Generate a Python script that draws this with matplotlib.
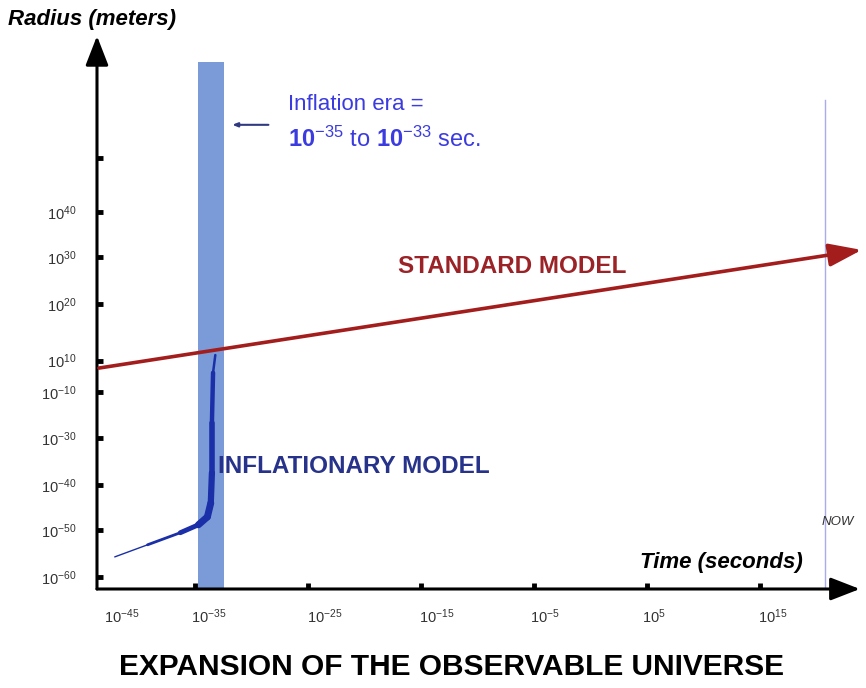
import matplotlib
matplotlib.use("Agg")
import matplotlib.pyplot as plt
from matplotlib.collections import LineCollection

plt.rcParams['font.family'] = ['Liberation Sans', 'DejaVu Sans']
plt.rcParams['mathtext.fontset'] = 'custom'
plt.rcParams['mathtext.rm'] = 'Liberation Sans'
plt.rcParams['mathtext.bf'] = 'Liberation Sans:bold'
plt.rcParams['mathtext.it'] = 'Liberation Sans:italic'
plt.rcParams['mathtext.default'] = 'regular'

#--- data (x = log10 of time in s, y = radius on the drawing's scale) ---
x_marks = [-35, -25, -15, -5, 5, 15]
x_label_pos = [-41.5, -33.8, -23.5, -13.6, -4.0, 5.6, 16.1]
x_labels = ['$10^{-45}$', '$10^{-35}$', '$10^{-25}$', '$10^{-15}$',
            '$10^{-5}$', '$10^{5}$', '$10^{15}$']
y_marks = [-60, -49.9, -40.2, -30.1, -20.2, -13.5, -1.3, 8.8, 18.5, 30.1]
y_labels = ['$10^{-60}$', '$10^{-50}$', '$10^{-40}$', '$10^{-30}$',
            '$10^{-10}$', '$10^{10}$', '$10^{20}$', '$10^{30}$',
            '$10^{40}$', '']

standard_x = [-43.5, 24.0]
standard_y = [-15.1, 10.3]

infl_x = [-42.1, -39.2, -36.3, -34.7, -33.9, -33.6, -33.5, -33.5, -33.4, -33.2]
infl_y = [-55.7, -53.1, -50.5, -48.8, -47.1, -44.1, -37.6, -26.9, -16.1, -12.3]

era_start, era_end, era_top = -34.7, -32.4, 50.8
now_x, now_top = 20.75, 42.6

x_lim = (-43.67, 24.38)
y_lim = (-62.6, 56.3)

#--- figure ---
fig = plt.figure(figsize=(8.66, 6.88), dpi=100)
ax = fig.add_axes([0.112, 0.1439, 0.888, 0.8038])
ax.set_xlim(*x_lim)
ax.set_ylim(*y_lim)
for s in ax.spines.values():
    s.set_visible(False)

# axis lines with arrow heads
ax.annotate('', xy=(0.992, 0), xytext=(0, 0), xycoords='axes fraction',
            arrowprops=dict(arrowstyle='-|>,head_length=0.9,head_width=0.35',
                            lw=2.2, color='black', mutation_scale=20,
                            shrinkA=0, shrinkB=0), annotation_clip=False)
ax.annotate('', xy=(0, 1), xytext=(0, 0), xycoords='axes fraction',
            arrowprops=dict(arrowstyle='-|>,head_length=0.9,head_width=0.35',
                            lw=2.2, color='black', mutation_scale=20,
                            shrinkA=0, shrinkB=0), annotation_clip=False)

# ticks
ax.set_xticks(x_label_pos)
ax.set_xticklabels(x_labels)
ax.set_xticks(x_marks, minor=True)
ax.tick_params(axis='x', which='major', length=0, pad=13, labelsize=10.5,
               labelcolor='#333333')
ax.tick_params(axis='x', which='minor', direction='in', length=4.5, width=3.5,
               color='black')
ax.set_yticks(y_marks)
ax.set_yticklabels(y_labels)
ax.tick_params(axis='y', direction='in', length=4.5, width=3.5, color='black',
               pad=15, labelsize=10.5, labelcolor='#333333')

# inflation era band
ax.bar(era_start, era_top - y_lim[0], width=era_end - era_start,
       bottom=y_lim[0], align='edge', color='#7b9bd8', zorder=1)

# "now" line
ax.plot([now_x, now_x], [y_lim[0], now_top], color='#aaaaee', lw=1.0, zorder=1)

# standard model
ax.annotate('', xy=(standard_x[1], standard_y[1]),
            xytext=(standard_x[0], standard_y[0]),
            arrowprops=dict(arrowstyle='-|>,head_length=1.0,head_width=0.35',
                            lw=2.6, color='#a31d1d', mutation_scale=20,
                            shrinkA=0, shrinkB=0), zorder=3,
            annotation_clip=False)

# inflationary model (tapered)
pts = list(zip(infl_x, infl_y))
segs = [[pts[i], pts[i + 1]] for i in range(len(pts) - 1)]
widths = [1.0, 2.0, 3.5, 5.0, 5.0, 4.5, 4.0, 3.2, 1.8]
lc = LineCollection(segs, linewidths=widths, colors='#1a2fa8',
                    capstyle='round', joinstyle='round', zorder=3)
ax.add_collection(lc)

# texts
ax.text(-6.95, 6.67, 'STANDARD MODEL', color='#9b2226', fontsize=17.5,
        fontweight='bold', ha='center', va='center')
ax.text(-32.96, -36.3, 'INFLATIONARY MODEL', color='#27338a', fontsize=17.5,
        fontweight='bold', ha='left', va='center')
ax.annotate('', xy=(-31.7, 37.2), xytext=(-28.5, 37.2),
            arrowprops=dict(arrowstyle='-|>,head_length=0.3,head_width=0.12',
                            lw=1.5, color='#303a80', mutation_scale=10,
                            shrinkA=0, shrinkB=0))
ax.text(-26.8, 41.5, 'Inflation era =', color='#3b3be0', fontsize=16,
        ha='left', va='center')
ax.text(-26.8, 34.0, r'$\mathbf{10}^{-35}$ to $\mathbf{10}^{-33}$ sec.',
        color='#3b3be0', fontsize=17, ha='left', va='center')
ax.text(11.6, -57.0, 'Time (seconds)', fontsize=16, fontweight='bold',
        fontstyle='italic', ha='center', va='center')
ax.text(21.9, -48.2, 'NOW', fontsize=9.5, fontstyle='italic', color='#333333',
        ha='center', va='center')

fig.text(8 / 866, 1 - 20 / 688, 'Radius (meters)', fontsize=16,
         fontweight='bold', fontstyle='italic', ha='left', va='center')
fig.text(0.521, 1 - 667 / 688, 'EXPANSION OF THE OBSERVABLE UNIVERSE',
         fontsize=21.5, fontweight='bold', ha='center', va='center')

fig.savefig('out.png', dpi=100)
